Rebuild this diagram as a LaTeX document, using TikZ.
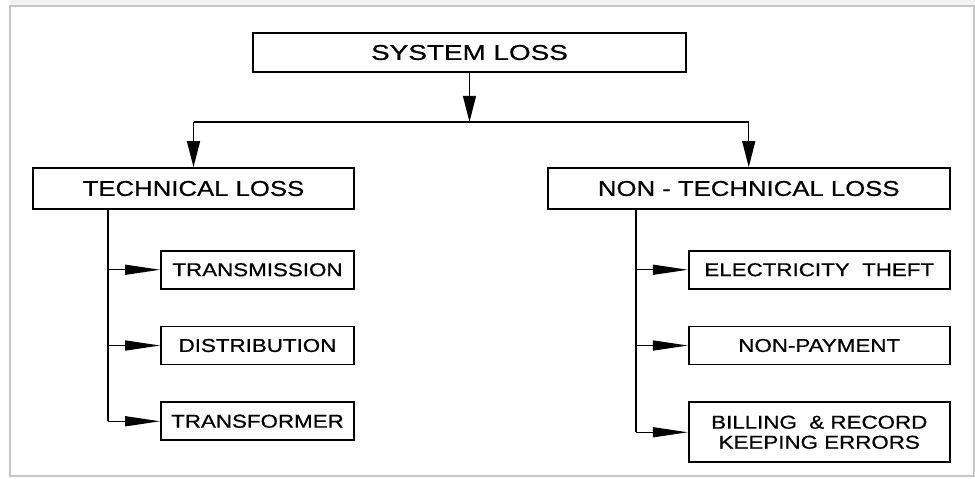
\documentclass[tikz,border=0pt]{standalone}
\usepackage{fontspec}
\usepackage{tikz}
\usetikzlibrary{positioning,arrows.meta}
\newfontfamily\boxfont[FakeStretch=1.2,FakeBold=0.6]{Liberation Sans}
\newfontfamily\topfont[FakeStretch=1.3,FakeBold=0.6]{Liberation Sans}

\begin{document}
\begin{tikzpicture}[node distance=0.72cm,
	lossbox/.style={rectangle, draw=black, line width=1pt, inner sep=0pt, align=center},
	topbox/.style={lossbox, minimum width=8.66cm, minimum height=0.78cm, font=\topfont\fontsize{12.2}{14}\selectfont},
	headbox/.style={lossbox, minimum height=0.82cm, font=\boxfont\fontsize{12.2}{14}\selectfont},
	leafbox/.style={lossbox, minimum height=0.76cm, font=\boxfont\fontsize{10.6}{11.4}\selectfont},
	link/.style={line width=0.8pt},
	downarrow/.style={link, -{Triangle[length=0.52cm, width=0.26cm]}},
	branch/.style={link, -{Triangle[length=0.7cm, width=0.2cm]}}]
	\useasboundingbox (0,0) rectangle (19.5,-9.58);
	\fill[gray!10] (0.2,0) rectangle (19.5,-0.12);
	\draw[gray!45, line width=0.04cm] (0.2,-0.12) rectangle (19.48,-9.52);

	\node (sys) [topbox] at (9.39,-1.05) {SYSTEM LOSS};
	\node (tech) [headbox, minimum width=6.42cm] at (3.87,-3.77) {TECHNICAL LOSS};
	\node (nontech) [headbox, minimum width=8.04cm, right=3.84cm of tech] {NON - TECHNICAL LOSS};

	\node (trans) [leafbox, minimum width=3.86cm, below=0.8cm of tech.south east, anchor=north east] {TRANSMISSION};
	\node (dist) [leafbox, minimum width=3.86cm, below=of trans] {DISTRIBUTION};
	\node (xfmr) [leafbox, minimum width=3.86cm, below=of dist] {TRANSFORMER};

	\node (theft) [leafbox, minimum width=5.22cm, below=0.8cm of nontech.south east, anchor=north east] {ELECTRICITY~~THEFT};
	\node (nonpay) [leafbox, minimum width=5.22cm, below=of theft] {NON-PAYMENT};
	\node (billing) [leafbox, minimum width=5.22cm, minimum height=1.2cm, below=of nonpay] {BILLING~~\&~RECORD\\KEEPING ERRORS};

	\coordinate[below=0.98cm of sys.south] (bar);
	\draw[downarrow] (sys.south) -- (bar);
	\draw[link] (tech.north |- bar) -- (nontech.north |- bar);
	\draw[downarrow] (tech.north |- bar) -- (tech.north);
	\draw[downarrow] (nontech.north |- bar) -- (nontech.north);

	\foreach \n in {trans,dist,xfmr,theft,nonpay,billing}
		\coordinate[left=1.04cm of \n.west] (l\n);
	\draw[link] (ltrans |- tech.south) -- (lxfmr);
	\draw[link] (ltheft |- nontech.south) -- (lbilling);
	\foreach \n in {trans,dist,xfmr,theft,nonpay,billing}
		\draw[branch] (l\n) -- (\n.west);
\end{tikzpicture}
\end{document}
